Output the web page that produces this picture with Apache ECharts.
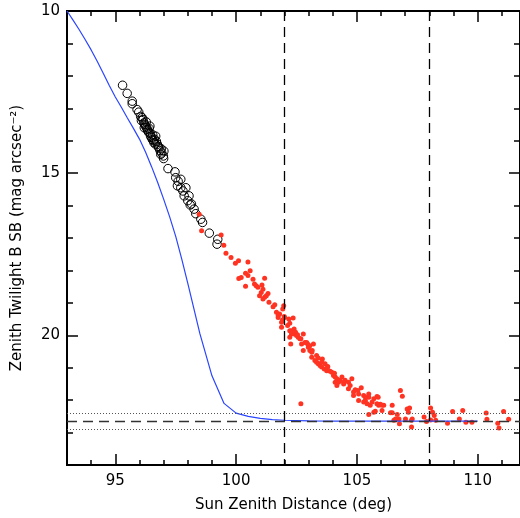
<!DOCTYPE html>
<html>
<head>
<meta charset="utf-8">
<script src="https://cdn.jsdelivr.net/npm/echarts@6/dist/echarts.min.js"></script>
<style>
  html, body { margin: 0; padding: 0; background: #fff; }
  #twilightChart { width: 520px; height: 518px; }
</style>
</head>
<body>
<div id="twilightChart"></div>
<script>
// axis labels / major ticks
const xLabels = [95, 100, 105, 110];
const yLabels = [10, 15, 20];

// model curve (sun zenith distance, mag/arcsec^2)
const modelCurve = [
  [93.0, 10.0], [93.25, 10.28], [93.5, 10.57], [93.75, 10.88], [94.0, 11.2],
  [94.25, 11.55], [94.5, 11.92], [94.75, 12.3], [95.0, 12.65], [95.25, 12.97],
  [95.5, 13.3], [95.75, 13.62], [96.0, 13.95], [96.25, 14.35], [96.5, 14.8],
  [96.75, 15.28], [97.0, 15.8], [97.25, 16.35], [97.5, 16.95], [97.75, 17.65],
  [98.0, 18.4], [98.5, 19.95], [99.0, 21.25], [99.5, 22.1], [100.0, 22.4],
  [100.5, 22.5], [101.0, 22.56], [101.5, 22.6], [102.0, 22.62], [103.0, 22.64],
  [104.0, 22.65], [105.0, 22.65], [106.0, 22.65], [107.0, 22.65], [108.0, 22.65],
  [109.0, 22.65], [110.0, 22.65]
];

// open circles (first sample)
const circlePts = [
  [95.30, 12.29], [95.49, 12.54], [95.70, 12.78], [95.70, 12.86], [95.90, 13.04],
  [95.97, 13.12], [96.05, 13.25], [96.11, 13.29], [96.08, 13.38], [96.15, 13.35],
  [96.18, 13.45], [96.20, 13.60], [96.22, 13.50], [96.25, 13.55], [96.28, 13.42],
  [96.30, 13.60], [96.32, 13.65], [96.35, 13.70], [96.40, 13.62], [96.43, 13.55],
  [96.39, 13.75], [96.45, 13.78], [96.46, 13.86], [96.50, 13.90], [96.53, 13.96],
  [96.55, 13.82], [96.58, 14.00], [96.60, 14.06], [96.62, 13.95], [96.65, 14.10],
  [96.67, 13.86], [96.70, 14.02], [96.74, 14.11], [96.78, 14.18], [96.80, 14.22],
  [96.85, 14.30], [96.88, 14.42], [96.90, 14.25], [96.92, 14.38], [96.99, 14.47],
  [97.01, 14.32], [97.00, 14.55], [97.18, 14.86], [97.47, 14.96], [97.50, 15.14],
  [97.71, 15.19], [97.57, 15.39], [97.60, 15.25], [97.71, 15.45], [97.80, 15.55],
  [97.92, 15.45], [97.85, 15.70], [98.05, 15.70], [98.00, 15.85], [98.10, 15.98],
  [98.15, 15.95], [98.26, 16.11], [98.33, 16.25], [98.54, 16.42], [98.61, 16.52],
  [98.89, 16.85], [99.24, 17.04], [99.21, 17.19]
];

// red dots (second sample)
const dotPts = [
  [98.47, 16.27], [98.57, 16.78], [99.38, 16.91], [99.49, 17.22], [99.58, 17.47],
  [99.79, 17.60], [99.97, 17.78], [100.10, 17.70], [100.49, 17.74], [100.39, 18.09],
  [100.58, 18.01], [100.49, 18.16], [100.21, 18.22], [100.11, 18.25], [101.18, 18.24],
  [100.70, 18.27], [100.76, 18.42], [100.39, 18.49], [100.83, 18.47], [100.90, 18.52],
  [101.07, 18.45], [101.11, 18.58], [101.04, 18.68], [100.97, 18.78], [101.18, 18.83],
  [101.32, 18.71], [101.25, 18.78], [101.11, 18.88], [101.36, 18.98], [101.53, 19.12],
  [101.60, 19.06], [101.97, 19.09], [101.67, 19.29], [101.80, 19.34], [101.74, 19.39],
  [101.74, 19.45], [101.88, 19.60], [101.99, 19.42], [102.18, 19.50], [102.36, 19.47],
  [101.88, 19.75], [102.13, 19.70], [102.22, 19.86], [102.29, 19.96], [102.22, 20.06],
  [102.26, 20.27], [102.40, 19.96], [102.50, 20.01], [102.57, 20.06], [102.64, 20.11],
  [102.78, 19.96], [102.71, 20.27], [102.78, 20.47], [102.85, 20.22], [102.96, 20.27],
  [102.99, 20.37], [103.05, 20.47], [103.13, 20.52], [103.20, 20.27], [103.13, 20.68],
  [103.26, 20.78], [103.33, 20.83], [103.40, 20.88], [103.47, 20.93], [103.57, 20.73],
  [103.54, 20.98], [103.65, 21.04], [103.75, 21.09], [103.79, 20.98], [103.96, 21.14],
  [104.03, 21.24], [104.10, 21.29], [104.17, 21.34], [104.24, 21.45], [104.30, 21.39],
  [104.45, 21.50], [104.79, 21.34], [104.65, 21.65], [104.86, 21.75], [104.93, 21.68],
  [105.07, 21.81], [105.18, 21.62], [105.49, 21.81], [105.83, 21.89], [106.80, 21.70],
  [102.40, 19.81], [104.10, 21.45], [104.17, 21.55], [104.45, 21.45], [104.86, 21.86],
  [105.07, 22.01], [105.28, 22.06], [105.35, 22.01], [105.49, 21.91], [105.88, 21.91],
  [105.42, 22.11], [105.55, 22.16], [105.70, 21.96], [105.97, 22.13], [105.70, 22.37],
  [106.04, 22.32], [105.90, 22.16], [105.76, 22.34], [105.49, 22.44], [106.46, 22.16],
  [106.46, 22.39], [106.88, 21.88], [106.67, 22.44], [106.74, 22.58], [106.53, 22.62],
  [106.76, 22.73], [107.08, 22.27], [107.18, 22.24], [107.13, 22.37], [107.01, 22.58],
  [107.26, 22.62], [107.26, 22.83], [107.78, 22.52], [107.88, 22.66], [108.05, 22.24],
  [108.13, 22.37], [108.20, 22.47], [108.05, 22.61], [108.26, 22.62], [108.75, 22.71],
  [108.96, 22.35], [109.38, 22.32], [109.24, 22.58], [109.51, 22.68], [109.76, 22.68],
  [110.35, 22.40], [110.38, 22.59], [110.83, 22.71], [110.88, 22.86], [111.07, 22.35],
  [111.28, 22.59], [102.68, 22.11], [106.11, 22.16], [106.39, 22.39], [106.60, 22.58],
  [107.29, 22.58], [101.93, 19.19], [102.01, 19.45], [101.92, 19.53], [102.22, 19.63],
  [102.29, 19.86], [102.46, 19.91], [102.54, 19.98], [102.68, 20.11], [102.92, 20.22],
  [103.05, 20.32], [103.15, 20.47], [103.33, 20.62], [103.40, 20.70], [103.54, 20.83],
  [103.68, 20.88], [103.79, 20.96], [103.89, 21.11], [104.07, 21.17], [104.38, 21.29],
  [104.51, 21.39], [104.65, 21.45], [104.72, 21.55], [105.04, 21.70], [105.28, 21.86],
  [105.35, 21.91], [105.63, 22.06], [105.83, 22.11], [106.04, 22.16]
];

// reference levels
const darkSky = 22.65;
const darkSkyBand = [22.4, 22.9];
const zenithCuts = [102, 108];

const fontName = "DejaVu Sans";
const xMin = 93, xMax = 111.75;
const yMin = 10, yMax = 24;

function tickAxis(grid, pos, min, max, len, ticks, opts) {
  const ax = {
    type: "value",
    gridIndex: grid,
    position: pos,
    min: min,
    max: max,
    axisLine: { show: true, onZero: false, lineStyle: { color: "#000", width: 2 } },
    axisTick: { show: true, inside: true, length: len, lineStyle: { color: "#000", width: 1.5 } },
    axisLabel: { show: false },
    splitLine: { show: false },
  };
  if (Array.isArray(ticks)) ax.axisTick.customValues = ticks;
  else ax.interval = ticks;
  return Object.assign(ax, opts || {});
}

// labels and names go on both grids (hidden on the second) so both get the same layout
function xText(color) {
  return {
    axisLabel: { show: true, customValues: xLabels, margin: 9, color: color, fontFamily: fontName, fontSize: 15 },
    name: "Sun Zenith Distance (deg)",
    nameLocation: "middle",
    nameGap: 33,
    nameTextStyle: { color: color, fontFamily: fontName, fontSize: 15 },
  };
}
function yText(color) {
  return {
    inverse: true,
    axisLabel: { show: true, customValues: yLabels, margin: 7, color: color, fontFamily: fontName, fontSize: 15 },
    name: "Zenith Twilight B SB (mag arcsec⁻²)",
    nameLocation: "middle",
    nameGap: 42,
    nameRotate: 90,
    nameTextStyle: { color: color, fontFamily: fontName, fontSize: 15 },
  };
}
const hidden = "rgba(0,0,0,0)";

// margins allow for the few pixels echarts takes back around the labels
const gridBox = { left: 67, right: -1, top: 11, bottom: 46 };

const chart = echarts.init(document.getElementById("twilightChart"));

chart.setOption({
  animation: false,
  backgroundColor: "#fff",
  grid: [Object.assign({}, gridBox), Object.assign({}, gridBox)],
  xAxis: [
    tickAxis(0, "bottom", xMin, xMax, 5, 1, xText("#000")),
    tickAxis(0, "top", xMin, xMax, 5, 1),
    tickAxis(1, "bottom", xMin, xMax, 11, xLabels, xText(hidden)),
    tickAxis(1, "top", xMin, xMax, 11, xLabels),
  ],
  yAxis: [
    tickAxis(0, "left", yMin, yMax, 6, 1, yText("#000")),
    tickAxis(0, "right", yMin, yMax, 6, 1, { inverse: true }),
    tickAxis(1, "left", yMin, yMax, 11, yLabels, yText(hidden)),
    tickAxis(1, "right", yMin, yMax, 11, yLabels, { inverse: true }),
  ],
  series: [
    {
      // guide lines
      type: "scatter",
      data: [],
      silent: true,
      markLine: {
        silent: true,
        symbol: "none",
        label: { show: false },
        animation: false,
        data: [
          { yAxis: darkSky, lineStyle: { color: "#333", width: 1.3, type: [10, 6] } },
          { yAxis: darkSkyBand[0], lineStyle: { color: "#555", width: 1, type: [1, 2] } },
          { yAxis: darkSkyBand[1], lineStyle: { color: "#555", width: 1, type: [1, 2] } },
          { xAxis: zenithCuts[0], lineStyle: { color: "#000", width: 1.3, type: [10, 6] } },
          { xAxis: zenithCuts[1], lineStyle: { color: "#000", width: 1.3, type: [10, 6] } },
        ],
      },
    },
    {
      type: "line",
      data: modelCurve,
      showSymbol: false,
      smooth: false,
      lineStyle: { color: "#2a45ff", width: 1.2 },
      silent: true,
    },
    {
      type: "scatter",
      data: circlePts,
      symbol: "circle",
      symbolSize: 8.5,
      itemStyle: { color: "rgba(0,0,0,0)", borderColor: "#000", borderWidth: 1, opacity: 1 },
    },
    {
      type: "scatter",
      data: dotPts,
      symbol: "circle",
      symbolSize: 5,
      itemStyle: { color: "#ff3322", opacity: 1 },
    },
  ],
});
</script>
</body>
</html>
